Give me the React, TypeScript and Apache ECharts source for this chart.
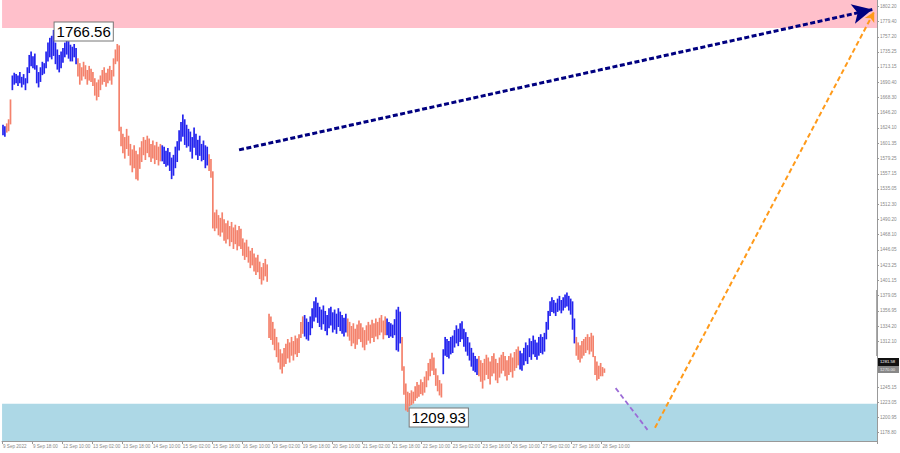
import React, { useEffect, useRef } from "react";
import * as echarts from "echarts";

// x-axis tick labels, one every 16 hourly bars
const tickLabels = [
  "9 Sep 2022", "9 Sep 18:00", "12 Sep 10:00", "13 Sep 02:00", "13 Sep 18:00", "14 Sep 10:00",
  "15 Sep 02:00", "15 Sep 18:00", "16 Sep 10:00", "19 Sep 02:00", "19 Sep 18:00", "20 Sep 10:00",
  "21 Sep 02:00", "21 Sep 18:00", "22 Sep 10:00", "23 Sep 02:00", "23 Sep 18:00", "26 Sep 10:00",
  "27 Sep 02:00", "27 Sep 18:00", "28 Sep 10:00",
];
const totalSlots = 467;

// right price-scale labels
const priceTicks = [
  1802.2, 1779.4, 1757.2, 1735.25, 1713.15, 1690.4, 1668.3, 1646.2, 1624.1, 1601.35, 1579.25,
  1557.15, 1535.05, 1512.3, 1490.2, 1468.1, 1446.05, 1423.25, 1401.15, 1379.05, 1356.95, 1334.2,
  1312.1, 1245.15, 1223.05, 1200.95, 1178.8,
];

// hourly bars: [high, low]
const bars: number[][] = [
  // 0-4
  [1628, 1614], [1626, 1612], [1630, 1618], [1636, 1620], [1665, 1630],
  // 5-12
  [1700, 1680], [1704, 1688], [1702, 1690], [1700, 1686], [1705, 1690], [1698, 1684], [1702, 1688], [1696, 1680],
  // 13-17
  [1712, 1690], [1730, 1705], [1735, 1715], [1728, 1712], [1732, 1710],
  // 18-22
  [1715, 1690], [1705, 1684], [1712, 1692], [1720, 1702], [1718, 1704],
  // 23-27
  [1735, 1712], [1748, 1722], [1755, 1728], [1758, 1725], [1766.56, 1730],
  // 28-31
  [1748, 1718], [1738, 1710], [1730, 1706], [1735, 1712],
  // 32-39
  [1740, 1720], [1748, 1728], [1756, 1732], [1750, 1726], [1745, 1722], [1742, 1722], [1746, 1728], [1740, 1718],
  // 40-48
  [1725, 1700], [1718, 1688], [1712, 1694], [1720, 1700], [1715, 1696], [1708, 1688], [1714, 1694], [1710, 1692], [1705, 1686],
  // 49-51
  [1696, 1672], [1690, 1665], [1694, 1670],
  // 52-58
  [1700, 1680], [1708, 1688], [1712, 1692], [1704, 1685], [1710, 1690], [1714, 1694], [1708, 1688],
  // 59-62
  [1725, 1700], [1738, 1718], [1746, 1722], [1744, 1620],
  // 63-74
  [1625, 1598], [1615, 1588], [1610, 1580], [1622, 1594], [1612, 1584], [1600, 1570], [1592, 1560], [1598, 1566],
  [1590, 1550], [1585, 1548], [1595, 1565], [1604, 1575],
  // 75-84
  [1610, 1585], [1606, 1578], [1612, 1588], [1608, 1582], [1600, 1575], [1605, 1580], [1598, 1572], [1603, 1578],
  [1596, 1570], [1600, 1576],
  // 85-93
  [1598, 1576], [1596, 1572], [1590, 1568], [1594, 1570], [1588, 1562], [1580, 1550], [1584, 1555], [1596, 1566], [1604, 1575],
  // 94-99
  [1620, 1592], [1632, 1605], [1643, 1612], [1636, 1600], [1628, 1596], [1622, 1598],
  // 100-109
  [1618, 1590], [1610, 1580], [1624, 1596], [1615, 1585], [1606, 1578], [1612, 1584], [1600, 1576], [1605, 1578],
  [1598, 1566], [1596, 1570],
  // 110-115
  [1585, 1562], [1578, 1552], [1560, 1478], [1500, 1474], [1504, 1478], [1496, 1468],
  // 116-127
  [1492, 1466], [1500, 1472], [1490, 1460], [1484, 1456], [1488, 1462], [1480, 1452], [1486, 1458], [1478, 1448],
  [1482, 1455], [1474, 1446], [1480, 1452], [1476, 1448],
  // 128-141
  [1462, 1438], [1456, 1432], [1460, 1436], [1450, 1428], [1444, 1420], [1448, 1424], [1440, 1415], [1434, 1410],
  [1438, 1414], [1428, 1404], [1420, 1396], [1426, 1402], [1432, 1408], [1424, 1400],
  // 142-145
  [1352, 1318], [1348, 1315], [1340, 1308], [1330, 1300],
  // 146-151
  [1318, 1290], [1310, 1282], [1300, 1272], [1294, 1266], [1302, 1276], [1308, 1280],
  // 152-160
  [1315, 1288], [1310, 1282], [1318, 1292], [1312, 1285], [1320, 1294], [1316, 1290], [1322, 1296], [1340, 1318], [1348, 1324],
  // 161-169
  [1350, 1320], [1345, 1316], [1340, 1314], [1348, 1322], [1360, 1332], [1370, 1342], [1376, 1348], [1368, 1340], [1362, 1334],
  // 170-183
  [1358, 1330], [1364, 1338], [1356, 1328], [1350, 1322], [1360, 1332], [1362, 1336], [1354, 1326], [1358, 1330],
  [1352, 1324], [1360, 1334], [1355, 1328], [1350, 1324], [1346, 1320], [1352, 1326],
  // 184-204
  [1345, 1320], [1340, 1314], [1334, 1306], [1338, 1310], [1330, 1302], [1336, 1308], [1342, 1316], [1338, 1312],
  [1332, 1304], [1328, 1300], [1335, 1308], [1340, 1314], [1336, 1310], [1343, 1318], [1338, 1312], [1345, 1320],
  [1340, 1316], [1346, 1322], [1350, 1326], [1342, 1316], [1348, 1322],
  // 205-212
  [1345, 1322], [1340, 1318], [1338, 1320], [1336, 1318], [1344, 1322], [1358, 1300], [1362, 1298], [1355, 1310],
  // 213-219
  [1318, 1270], [1275, 1235], [1250, 1212], [1238, 1209.93], [1236, 1218], [1240, 1220], [1238, 1222],
  // 220-225
  [1246, 1226], [1252, 1230], [1248, 1232], [1256, 1236], [1252, 1234], [1260, 1238],
  // 226-234
  [1268, 1246], [1280, 1256], [1286, 1262], [1295, 1270], [1288, 1264], [1272, 1248], [1262, 1240], [1255, 1234], [1250, 1231],
  // 235-245
  [1300, 1265], [1318, 1292], [1315, 1290], [1312, 1288], [1318, 1294], [1320, 1296], [1328, 1304], [1335, 1310],
  [1330, 1306], [1338, 1312], [1341, 1316],
  // 246-253
  [1330, 1305], [1325, 1298], [1318, 1292], [1310, 1285], [1302, 1276], [1295, 1270], [1290, 1268], [1286, 1264],
  // 254-275
  [1290, 1262], [1284, 1254], [1280, 1244], [1286, 1256], [1292, 1264], [1288, 1258], [1282, 1250], [1290, 1262],
  [1294, 1266], [1286, 1256], [1280, 1252], [1288, 1260], [1292, 1266], [1296, 1270], [1290, 1262], [1284, 1256],
  [1290, 1264], [1294, 1268], [1288, 1260], [1296, 1270], [1300, 1274], [1304, 1278],
  // 276-289
  [1298, 1272], [1294, 1270], [1302, 1278], [1310, 1284], [1306, 1280], [1316, 1290], [1312, 1286], [1320, 1294],
  [1314, 1290], [1310, 1286], [1318, 1292], [1322, 1296], [1318, 1294], [1324, 1298],
  // 290-305
  [1340, 1316], [1356, 1330], [1370, 1350], [1376, 1356], [1372, 1354], [1368, 1350], [1374, 1356], [1378, 1358],
  [1372, 1354], [1376, 1358], [1380, 1362], [1383, 1364], [1378, 1358], [1374, 1352], [1370, 1330], [1345, 1310],
  // 306-321
  [1318, 1292], [1310, 1286], [1306, 1282], [1312, 1288], [1315, 1292], [1318, 1296], [1322, 1300], [1318, 1294],
  [1324, 1298], [1320, 1290], [1290, 1264], [1282, 1256], [1276, 1258], [1280, 1262], [1274, 1262], [1272, 1267],
];

// wave colouring: [first bar index, colour key]
const waves: [number, string][] = [
  [0, "up"], [2, "down"], [5, "up"], [40, "down"], [85, "up"], [110, "down"], [161, "up"],
  [184, "down"], [205, "up"], [213, "down"], [235, "up"], [254, "down"], [276, "up"], [306, "down"],
];

// forecast lines: [start bar, start price, end bar, end price]
const trendLine = [126, 1592, 464, 1797];
const targetLine = [348, 1186, 465, 1794];
const nearLine = [327, 1244, 344, 1183];

const resistanceZone = [1770, 1811];
const supportZone = [1166.7, 1221];
const highMark = [27, 1766.56];
const lowMark = [216, 1209.93];

const colors: Record<string, string> = { up: "#2424ee", down: "#f4826c" };

const tinyFont = "'Liberation Sans Narrow', 'Liberation Sans', sans-serif";

export default function App() {
  const ref = useRef<HTMLDivElement>(null);
  useEffect(() => {
    document.body.style.margin = "0";
    const chart = echarts.init(ref.current!, null, { renderer: "svg" });
    const categories = Array.from({ length: totalSlots }, (_, i) =>
      i % 16 === 0 && i / 16 < tickLabels.length ? tickLabels[i / 16] : ""
    );
    const colorOf = (i: number) => {
      let key = waves[0][1];
      for (const w of waves) if (i >= w[0]) key = w[1];
      return key === "up" ? 0 : 1;
    };
    const data = bars.map((b, i) => [i, b[0], b[1], colorOf(i)]);
    const palette = [colors.up, colors.down];
    const lbl = { fontSize: 4.6, color: "#888", fontFamily: tinyFont };
    const showTick = (i: number) => i % 16 === 0 && i / 16 < tickLabels.length;

    chart.setOption({
      animation: false,
      backgroundColor: "#ffffff",
      grid: { left: 0, right: 23, top: 0, bottom: 12 },
      xAxis: {
        type: "category",
        data: categories,
        boundaryGap: true,
        axisLine: { lineStyle: { color: "#999", width: 1 } },
        axisTick: { show: true, length: 3, interval: showTick, lineStyle: { color: "#999" } },
        axisLabel: { ...lbl, interval: showTick, align: "left", margin: 3, hideOverlap: false },
        splitLine: { show: false },
      },
      yAxis: {
        type: "value",
        position: "right",
        min: supportZone[0],
        max: resistanceZone[1],
        axisLine: { show: true, lineStyle: { color: "#999", width: 1 } },
        axisTick: { show: true, length: 2, customValues: priceTicks, lineStyle: { color: "#999" } },
        axisLabel: { ...lbl, customValues: priceTicks, margin: 3, formatter: (v: number) => v.toFixed(2) },
        splitLine: { show: false },
      },
      series: [
        {
          type: "custom",
          encode: { x: 0, y: [1, 2] },
          data,
          clip: true,
          renderItem: (params: any, api: any) => {
            const i = api.value(0);
            const hi = api.coord([i, api.value(1)]);
            const lo = api.coord([i, api.value(2)]);
            return {
              type: "line",
              shape: { x1: hi[0], y1: hi[1] - 0.5, x2: lo[0], y2: lo[1] + 0.5 },
              style: { stroke: palette[api.value(3)], lineWidth: 1.7 },
            };
          },
          markArea: {
            silent: true,
            data: [
              [{ yAxis: resistanceZone[0], itemStyle: { color: "#ffc0cb", opacity: 1 } }, { yAxis: resistanceZone[1] }],
              [{ yAxis: supportZone[0], itemStyle: { color: "#add8e6", opacity: 1 } }, { yAxis: supportZone[1] }],
            ],
          },
          markPoint: {
            symbol: "rect",
            symbolSize: 0,
            silent: true,
            label: {
              show: true,
              position: "right",
              distance: 1,
              color: "#000",
              fontSize: 15,
              fontFamily: "Liberation Sans",
              backgroundColor: "#ffffff",
              borderColor: "#777",
              borderWidth: 1,
              padding: [2, 2, 1, 2],
              formatter: (p: any) => p.value.toFixed(2),
            },
            data: [
              { coord: highMark, value: highMark[1], label: { offset: [0, 1] } },
              { coord: lowMark, value: lowMark[1], label: { offset: [1, 6] } },
            ],
          },
          markLine: {
            silent: true,
            animation: false,
            label: { show: false },
            data: [
              [
                { coord: [trendLine[0], trendLine[1]], symbol: "none", lineStyle: { color: "#000080", width: 3, type: [5, 2.5] } },
                { coord: [trendLine[2], trendLine[3]], symbol: "arrow", symbolSize: [15, 20] },
              ],
              [
                { coord: [targetLine[0], targetLine[1]], symbol: "none", lineStyle: { color: "#ff9a1a", width: 2, type: [5, 3] } },
                { coord: [targetLine[2], targetLine[3]], symbol: "arrow", symbolSize: [8, 10] },
              ],
              [
                { coord: [nearLine[0], nearLine[1]], symbol: "none", lineStyle: { color: "#9b6bd6", width: 1.8, type: [5, 3] } },
                { coord: [nearLine[2], nearLine[3]], symbol: "none" },
              ],
            ],
          },
        },
      ],
      graphic: [
        { type: "text", left: 4, top: 2, style: { text: "▼ ETH,H1  1268.60 1271.96 1267.29 1270.00", fontSize: 4.6, fill: "#777", fontFamily: tinyFont } },
        { type: "rect", shape: { x: 876, y: 290, width: 2, height: 66 }, style: { fill: "#aaa" } },
        { type: "rect", shape: { x: 878, y: 358, width: 21, height: 8 }, style: { fill: "#111" } },
        { type: "text", x: 880, y: 359.5, style: { text: "1281.58", fontSize: 4.2, fill: "#fff", fontFamily: tinyFont } },
        { type: "rect", shape: { x: 878, y: 366, width: 21, height: 7 }, style: { fill: "#888" } },
        { type: "text", x: 880, y: 367, style: { text: "1270.00", fontSize: 4.2, fill: "#eee", fontFamily: tinyFont } },
      ],
    });
    return () => chart.dispose();
  }, []);
  return <div ref={ref} style={{ width: 900, height: 453 }} />;
}
